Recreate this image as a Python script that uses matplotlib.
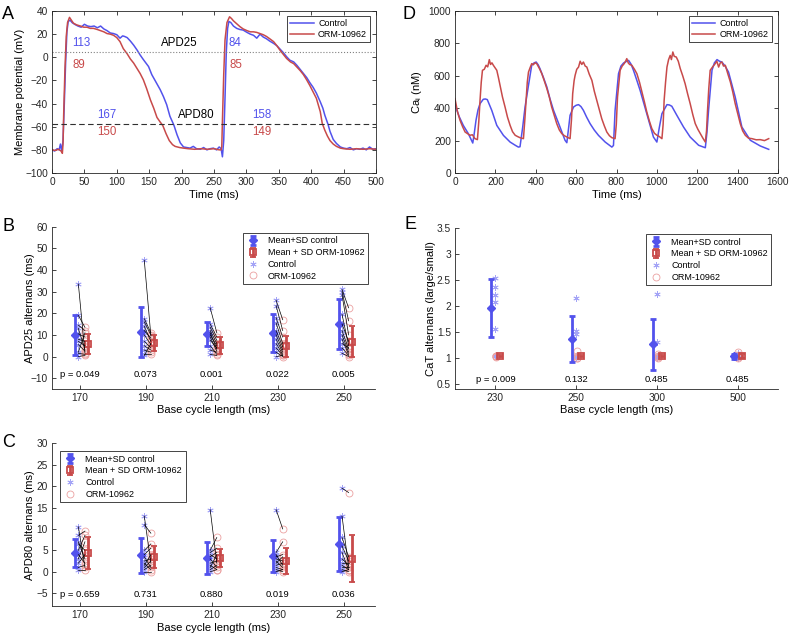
import matplotlib
matplotlib.use("Agg")
import matplotlib.pyplot as plt

plt.rcParams['font.family'] = ['Liberation Sans', 'DejaVu Sans']
plt.rcParams['mathtext.default'] = 'regular'

BLUE = '#5252EC'
RED = '#C84A4A'
LBLUE = '#A4A4F6'
LRED = '#EBA0A0'
DARK = '#262626'
LAB = 8

# ---- panel A: action potentials (time ms, mV)
ap_ctrl_t = [0, 4, 8, 11, 13, 15, 17, 19, 21, 23, 25, 28, 31, 35, 40, 45, 50, 55, 60, 65,
             70, 75, 80, 85, 90, 95, 100, 105, 109, 112, 116, 121, 126, 131, 136, 141, 145, 149, 154, 158,
             162, 167, 172, 177, 182, 188, 193, 198, 203, 208, 213, 218, 223, 229, 234, 239, 244, 249, 254, 258,
             261, 263, 265, 267, 269, 271, 273, 276, 280, 285, 290, 295, 301, 306, 311, 316, 321, 326, 331, 336,
             342, 347, 352, 357, 362, 367, 373, 378, 383, 388, 393, 398, 403, 408, 414, 418, 421, 426, 429, 434,
             439, 445, 450, 455, 460, 465, 470, 475, 480, 485, 490, 495, 500]
ap_ctrl_v = [-80, -81, -79, -80, -75, -81, -72, -40, -5, 22, 31, 32, 30, 28.5, 27, 26, 28.5, 27, 26.5, 27,
             25.5, 27, 24.5, 23, 21, 20.5, 19.5, 16.5, 18.5, 18, 17, 14, 10.5, 6.5, 2, -2, -5, -8, -15, -19,
             -23, -28, -34, -41, -51, -58.5, -67, -74, -77.5, -78, -78.5, -77, -79, -79.5, -78, -80, -79, -78.5, -80, -77.5,
             -79, -86, -72, -35, 5, 25, 31, 30, 27, 25, 24, 23.5, 21.5, 20, 19, 16.5, 20, 17.5, 16, 14,
             12, 10, 7, 4, 0.5, -2.5, -4, -7, -10.5, -14, -17.5, -22, -26, -31, -38.5, -44, -50, -58, -64, -71,
             -74.5, -77.5, -78.5, -79, -78, -80, -79, -79.5, -78.5, -80, -77.5, -79.5, -79]

ap_orm_t = [0, 5, 10, 14, 16, 17, 18, 20, 22, 24, 27, 30, 33, 38, 44, 49, 54, 59, 64, 70,
            75, 80, 85, 90, 95, 100, 105, 110, 116, 121, 126, 131, 136, 141, 146, 152, 157, 162, 167, 171,
            176, 181, 186, 190, 197, 203, 210, 220, 230, 240, 250, 258, 261, 262, 263, 265, 267, 270, 274, 277,
            280, 285, 290, 295, 301, 306, 311, 316, 321, 326, 331, 336, 342, 347, 352, 357, 362, 368, 373, 378,
            383, 388, 393, 398, 403, 408, 414, 417, 421, 425, 429, 434, 439, 445, 450, 460, 470, 480, 490, 500]
ap_orm_v = [-80, -80.5, -79.5, -81, -83, -75, -50, -10, 18, 30, 34.5, 32, 29.5, 28, 27, 26, 26, 25, 25, 24,
            23, 22, 20.5, 20, 19, 17, 13.5, 7.5, 3, -1.5, -5, -9.5, -14, -19.5, -27, -37, -44, -52, -56, -59,
            -66, -72, -75.5, -77, -78, -78.5, -79, -79.5, -79, -79.5, -79, -80, -80, -77, -55, -15, 15, 30, 35, 33.5,
            31.5, 29, 26.5, 24.5, 23, 22, 22, 21.5, 20.5, 19.5, 18, 16, 13.5, 10, 6, 2.5, -1, -4, -5.5, -8.5,
            -11.5, -15, -19.5, -24.5, -30, -35.5, -47, -57, -63, -68, -72, -75, -77, -78.5, -79, -79.5, -79, -79.5, -79, -79.5]

apd25_level = 4.5
apd80_level = -57.5
# (time, mV, text, colour)
ap_labels = [(45, 12, '113', BLUE), (42, -6.5, '89', RED), (282, 12, '84', BLUE), (284, -6.5, '85', RED),
             (85, -50, '167', BLUE), (85, -65, '150', RED), (324, -50, '158', BLUE), (324, -65, '149', RED),
             (197, 12, 'APD25', 'black'), (222, -50, 'APD80', 'black')]

# ---- panel D: Ca transients (time ms, nM)
ca_ctrl_t = [0, 5, 20, 41, 66, 88, 96, 104, 114, 124, 140, 150, 160, 182, 207, 240, 273, 300, 314, 322,
             335, 347, 364, 380, 392, 402, 412, 421, 438, 455, 470, 488, 517, 545, 554, 562, 570, 587, 600, 612,
             624, 636, 652, 669, 690, 711, 744, 777, 785, 793, 810, 822, 835, 848, 860, 872, 884, 900, 917, 950,
             983, 1000, 1012, 1025, 1050, 1062, 1074, 1099, 1132, 1165, 1207, 1240, 1248, 1256, 1273, 1285, 1298, 1310, 1322, 1338,
             1355, 1388, 1421, 1463, 1512, 1554]
ca_ctrl_v = [430, 403, 350, 294, 243, 185, 250, 325, 390, 428, 455, 457, 453, 387, 294, 232, 191, 170, 160, 162,
             280, 407, 541, 665, 680, 685, 668, 644, 590, 531, 460, 387, 294, 202, 187, 270, 356, 407, 418, 422,
             410, 387, 345, 305, 265, 232, 191, 160, 170, 387, 613, 660, 679, 688, 695, 672, 634, 575, 510, 366,
             222, 191, 280, 366, 422, 420, 412, 356, 284, 222, 171, 156, 250, 387, 634, 680, 700, 690, 685, 660,
             623, 469, 284, 202, 167, 146]

ca_orm_t = [0, 12, 25, 38, 50, 62, 74, 86, 99, 111, 118, 124, 130, 136, 145, 154, 162, 170, 176, 183,
            190, 198, 207, 215, 223, 235, 248, 260, 273, 285, 298, 310, 322, 339, 346, 352, 358, 364, 372, 380,
            388, 396, 405, 418, 430, 442, 455, 467, 479, 492, 504, 517, 529, 542, 554, 570, 577, 583, 590, 595,
            603, 612, 620, 628, 636, 645, 653, 665, 678, 690, 702, 715, 727, 740, 752, 765, 777, 793, 799, 805,
            812, 818, 828, 838, 845, 851, 858, 865, 876, 889, 901, 914, 926, 938, 950, 963, 975, 988, 1000, 1012,
            1025, 1031, 1036, 1043, 1050, 1058, 1066, 1072, 1079, 1086, 1096, 1106, 1116, 1128, 1140, 1152, 1165, 1178, 1190, 1203,
            1215, 1228, 1240, 1246, 1251, 1257, 1264, 1276, 1289, 1297, 1306, 1314, 1322, 1330, 1339, 1352, 1364, 1376, 1388, 1401,
            1413, 1425, 1438, 1454, 1471, 1492, 1512, 1533, 1554]
ca_orm_v = [459, 380, 325, 285, 253, 243, 233, 236, 212, 206, 320, 449, 560, 634, 640, 665, 655, 700, 670, 680,
            665, 650, 634, 590, 541, 470, 407, 345, 294, 255, 233, 225, 218, 212, 330, 449, 560, 623, 650, 675,
            668, 680, 675, 645, 613, 570, 521, 470, 407, 355, 305, 265, 243, 230, 222, 212, 330, 490, 570, 603,
            640, 654, 690, 670, 685, 660, 654, 610, 572, 505, 449, 390, 335, 290, 253, 230, 218, 212, 300, 469,
            560, 634, 660, 675, 690, 706, 680, 670, 665, 640, 613, 560, 500, 440, 377, 320, 274, 245, 233, 225,
            212, 300, 449, 560, 654, 700, 726, 700, 747, 720, 716, 690, 644, 600, 551, 490, 428, 360, 305, 270,
            243, 215, 191, 260, 387, 520, 634, 655, 675, 690, 654, 680, 685, 660, 665, 610, 562, 500, 428, 365,
            305, 260, 233, 215, 212, 205, 206, 200, 212]

# ---- panel B: APD25 alternans
bcl = [170, 190, 210, 230, 250]
b_ctrl_pts = [[33.5, 19.0, 14.5, 13.0, 10.5, 8.0, 7.0, 5.5, 2.0, 1.5, 0.0],
              [44.5, 17.5, 16.0, 14.0, 12.0, 10.0, 7.0, 5.0, 3.0, 1.0, 0.5],
              [22.5, 15.0, 13.5, 12.0, 11.0, 10.0, 9.0, 7.5, 5.0, 3.0, 1.0],
              [26.0, 23.5, 18.0, 15.5, 12.0, 10.0, 8.0, 6.0, 4.0, 2.0, 0.0],
              [31.0, 30.0, 28.5, 19.5, 15.0, 12.0, 10.0, 8.0, 6.0, 4.0, 1.5]]
b_orm_pts = [[1.5, 13.5, 12.0, 3.0, 9.0, 7.0, 5.0, 2.5, 11.0, 1.0, 0.5],
             [9.5, 11.0, 10.0, 7.0, 8.5, 5.5, 4.0, 3.0, 2.0, 1.0, 6.0],
             [11.0, 9.0, 7.5, 6.0, 3.5, 5.0, 2.5, 4.0, 1.0, 2.0, 0.5],
             [17.0, 12.0, 9.0, 6.0, 4.5, 3.0, 2.0, 1.0, 0.5, 0.0, 0.5],
             [22.5, 16.5, 10.0, 5.0, 7.0, 3.5, 2.0, 1.0, 4.0, 0.5, 0.0]]
b_ctrl_mean = [9.8, 11.4, 10.4, 10.9, 15.2]
b_ctrl_sd = [9.2, 11.4, 5.7, 8.9, 11.5]
b_orm_mean = [5.9, 6.2, 5.2, 4.8, 6.9]
b_orm_sd = [4.5, 3.7, 3.8, 4.9, 7.3]
b_p = ['p = 0.049', '0.073', '0.001', '0.022', '0.005']

# ---- panel C: APD80 alternans
c_ctrl_pts = [[10.5, 8.5, 7.0, 6.5, 5.0, 4.0, 3.0, 2.0, 1.0, 0.5],
              [13.0, 11.0, 5.0, 4.0, 3.5, 2.5, 2.0, 1.5, 1.0, 0.5, 0.0],
              [14.5, 5.0, 4.5, 4.0, 3.5, 3.0, 2.0, 1.5, 1.0, 0.5, 0.0],
              [14.5, 4.5, 4.0, 3.5, 3.0, 2.5, 2.0, 1.5, 1.0, 0.5, 0.0],
              [19.5, 13.0, 8.0, 6.0, 4.5, 3.0, 2.0, 1.5, 1.0, 0.5, 0.0]]
c_orm_pts = [[1.0, 9.5, 3.0, 5.0, 8.5, 2.0, 7.0, 4.0, 1.5, 0.5],
             [2.0, 9.0, 6.5, 5.5, 1.0, 3.0, 0.5, 4.0, 2.5, 1.5, 0.0],
             [2.0, 8.0, 5.5, 3.0, 4.5, 1.0, 2.5, 0.5, 4.0, 1.5, 0.5],
             [10.0, 7.0, 1.5, 4.0, 2.5, 1.0, 3.5, 2.0, 0.5, 0.0, 0.5],
             [18.5, 1.0, 3.5, 2.5, 0.5, 1.5, 2.0, 0.5, 1.0, 0.0, 0.5]]
c_ctrl_mean = [4.4, 3.8, 3.2, 3.7, 6.4]
c_ctrl_sd = [3.2, 4.1, 3.8, 3.8, 6.3]
c_orm_mean = [4.3, 3.4, 3.2, 2.5, 3.0]
c_orm_sd = [3.7, 2.6, 2.1, 3.0, 5.5]
c_p = ['p = 0.659', '0.731', '0.880', '0.019', '0.036']

# ---- panel E: CaT alternans
e_labels = ['230', '250', '300', '500']
e_ctrl_pts = [[2.53, 2.36, 2.20, 2.08, 1.55, 1.04],
              [2.16, 1.51, 1.46, 1.04, 1.02, 1.01],
              [2.23, 1.31, 1.03, 1.02, 1.01, 1.00],
              [1.10, 1.05, 1.03, 1.02, 1.00, 1.00]]
e_orm_pts = [[1.04, 1.03, 1.03, 1.02],
             [1.13, 1.03, 1.01, 1.00],
             [1.08, 1.04, 1.02, 1.01],
             [1.12, 1.05, 1.02, 1.00]]
e_ctrl_mean = [1.96, 1.37, 1.26, 1.03]
e_ctrl_sd = [0.56, 0.44, 0.49, 0.04]
e_orm_mean = [1.04, 1.04, 1.04, 1.04]
e_orm_sd = [0.02, 0.02, 0.02, 0.03]
e_p = ['p = 0.009', '0.132', '0.485', '0.485']


def style(ax, box):
    for s in ax.spines.values():
        s.set_linewidth(0.6)
        s.set_color(DARK)
    if not box:
        ax.spines['top'].set_visible(False)
        ax.spines['right'].set_visible(False)
    ax.tick_params(direction='in', length=3, width=0.6, labelsize=7.3, colors=DARK,
                   top=box, right=box, pad=3)


def alternans(ax, xs, ctrl_pts, orm_pts, cm, cs, om, osd, ptxt, py, off, pairs):
    h1 = ax.errorbar([x + off[0] for x in xs], cm, yerr=cs, fmt='D', color=BLUE, ms=4.5,
                     elinewidth=2, capsize=2.5, capthick=2, zorder=3)
    h2 = ax.errorbar([x + off[3] for x in xs], om, yerr=osd, fmt='s', color=RED, mfc='none',
                     ms=5, mew=1.3, elinewidth=2, capsize=2.5, capthick=2, zorder=3)
    for x, cp, op in zip(xs, ctrl_pts, orm_pts):
        h3, = ax.plot([x + off[1]] * len(cp), cp, ls='none', marker=(6, 2, 0), ms=4.5,
                      color=LBLUE, mew=0.6, zorder=2)
        h4, = ax.plot([x + off[2]] * len(op), op, ls='none', marker='o', ms=5, mfc='none',
                      mec=LRED, mew=0.6, zorder=2)
        if pairs:
            for a, b in zip(cp, op):
                ax.plot([x + off[1], x + off[2]], [a, b], color='black', lw=0.5, zorder=4)
    for x, t in zip(xs, ptxt):
        ax.text(x, py, t, ha='center', va='center', fontsize=6.8, color='black')
    return [h1, h2, h3, h4]


fig = plt.figure(figsize=(7.89, 6.36), dpi=100)
W, H = 789, 636


def add_ax(l, t, r, b):
    return fig.add_axes([l / W, 1 - b / H, (r - l) / W, (b - t) / H])


# ---- A
axA = add_ax(52, 11, 376, 173)
axA.plot(ap_ctrl_t, ap_ctrl_v, color=BLUE, lw=1.1, label='Control')
axA.plot(ap_orm_t, ap_orm_v, color=RED, lw=1.1, label='ORM-10962')
axA.axhline(apd25_level, color='#808080', ls=':', lw=0.8)
axA.axhline(apd80_level, color='#303030', ls=(0, (5, 3)), lw=0.8)
for t, v, s, c in ap_labels:
    axA.text(t, v, s, color=c, fontsize=8.3, ha='center', va='center')
axA.set_xlim(0, 500)
axA.set_ylim(-100, 40)
axA.set_xticks(range(0, 501, 50))
axA.set_yticks(range(-100, 41, 20))
axA.set_xlabel('Time (ms)', fontsize=LAB)
axA.set_ylabel('Membrane potential (mV)', fontsize=LAB)
axA.xaxis.set_label_coords(0.5, -0.105)
axA.yaxis.set_label_coords(-0.083, 0.5)
style(axA, True)
axA.legend(loc='upper left', bbox_to_anchor=(0.725, 0.97), fontsize=6.5, frameon=True,
           fancybox=False, edgecolor=DARK, framealpha=1, borderpad=0.35, labelspacing=0.2,
           handlelength=2.6, handletextpad=0.5, borderaxespad=0).get_frame().set_linewidth(0.6)

# ---- D
axD = add_ax(455, 11, 778, 173)
axD.plot(ca_ctrl_t, ca_ctrl_v, color=BLUE, lw=1.1, label='Control')
axD.plot(ca_orm_t, ca_orm_v, color=RED, lw=1.1, label='ORM-10962')
axD.set_xlim(0, 1600)
axD.set_ylim(0, 1000)
axD.set_xticks(range(0, 1601, 200))
axD.set_yticks(range(0, 1001, 200))
axD.set_xlabel('Time (ms)', fontsize=LAB)
axD.set_ylabel('Ca$_i$ (nM)', fontsize=LAB)
axD.xaxis.set_label_coords(0.5, -0.105)
axD.yaxis.set_label_coords(-0.096, 0.5)
style(axD, True)
axD.legend(loc='upper left', bbox_to_anchor=(0.724, 0.97), fontsize=6.5, frameon=True,
           fancybox=False, edgecolor=DARK, framealpha=1, borderpad=0.35, labelspacing=0.2,
           handlelength=2.6, handletextpad=0.5, borderaxespad=0).get_frame().set_linewidth(0.6)

leg_names = ['Mean+SD control', 'Mean + SD ORM-10962', 'Control', 'ORM-10962']


def alt_legend(ax, anchor):
    lg = ax.legend(hs, leg_names, loc='upper left', bbox_to_anchor=anchor, fontsize=6.5,
                   frameon=True, fancybox=False, edgecolor=DARK, framealpha=1, borderpad=0.4,
                   labelspacing=0.3, handlelength=1.4, handletextpad=1.0, borderaxespad=0)
    lg.get_frame().set_linewidth(0.6)


# ---- B
axB = add_ax(52, 226.7, 375, 389)
hs = alternans(axB, bcl, b_ctrl_pts, b_orm_pts, b_ctrl_mean, b_ctrl_sd, b_orm_mean, b_orm_sd,
               b_p, -8.3, (-1.5, -0.5, 1.5, 2.5), True)
axB.set_xlim(161.5, 259.5)
axB.set_ylim(-15, 60)
axB.set_xticks(bcl)
axB.set_yticks(range(-10, 61, 10))
axB.set_xlabel('Base cycle length (ms)', fontsize=LAB)
axB.set_ylabel('APD25 alternans (ms)', fontsize=LAB)
axB.xaxis.set_label_coords(0.5, -0.1)
axB.yaxis.set_label_coords(-0.054, 0.5)
style(axB, False)
alt_legend(axB, (0.59, 0.962))

# ---- C
axC = add_ax(52, 443.3, 375, 606)
hs = alternans(axC, bcl, c_ctrl_pts, c_orm_pts, c_ctrl_mean, c_ctrl_sd, c_orm_mean, c_orm_sd,
               c_p, -5.2, (-1.5, -0.5, 1.5, 2.5), True)
axC.set_xlim(161.5, 259.5)
axC.set_ylim(-8, 30)
axC.set_xticks(bcl)
axC.set_yticks(range(-5, 31, 5))
axC.set_xlabel('Base cycle length (ms)', fontsize=LAB)
axC.set_ylabel('APD80 alternans (ms)', fontsize=LAB)
axC.xaxis.set_label_coords(0.5, -0.105)
axC.yaxis.set_label_coords(-0.054, 0.5)
style(axC, False)
alt_legend(axC, (0.025, 0.953))

# ---- E
axE = add_ax(455, 227.7, 778, 389.3)
pos = list(range(1, len(e_labels) + 1))
hs = alternans(axE, pos, e_ctrl_pts, e_orm_pts, e_ctrl_mean, e_ctrl_sd, e_orm_mean, e_orm_sd,
               e_p, 0.58, (-0.05, 0.0, 0.01, 0.06), False)
axE.set_xlim(0.5, 4.5)
axE.set_ylim(0.4, 3.5)
axE.set_xticks(pos)
axE.set_xticklabels(e_labels)
axE.set_yticks([0.5, 1, 1.5, 2, 2.5, 3, 3.5])
axE.set_yticklabels(['0.5', '1', '1.5', '2', '2.5', '3', '3.5'])
axE.set_xlabel('Base cycle length (ms)', fontsize=LAB)
axE.set_ylabel('CaT alternans (large/small)', fontsize=LAB)
axE.xaxis.set_label_coords(0.5, -0.1)
axE.yaxis.set_label_coords(-0.059, 0.5)
style(axE, False)
alt_legend(axE, (0.591, 0.961))

# panel letters
for x, y, s in [(2, 6, 'A'), (402, 6, 'D'), (2, 218, 'B'), (405, 216, 'E'), (2, 434, 'C')]:
    fig.text(x / W, 1 - y / H, s, fontsize=13, ha='left', va='top')

fig.savefig('out.png', dpi=100)
